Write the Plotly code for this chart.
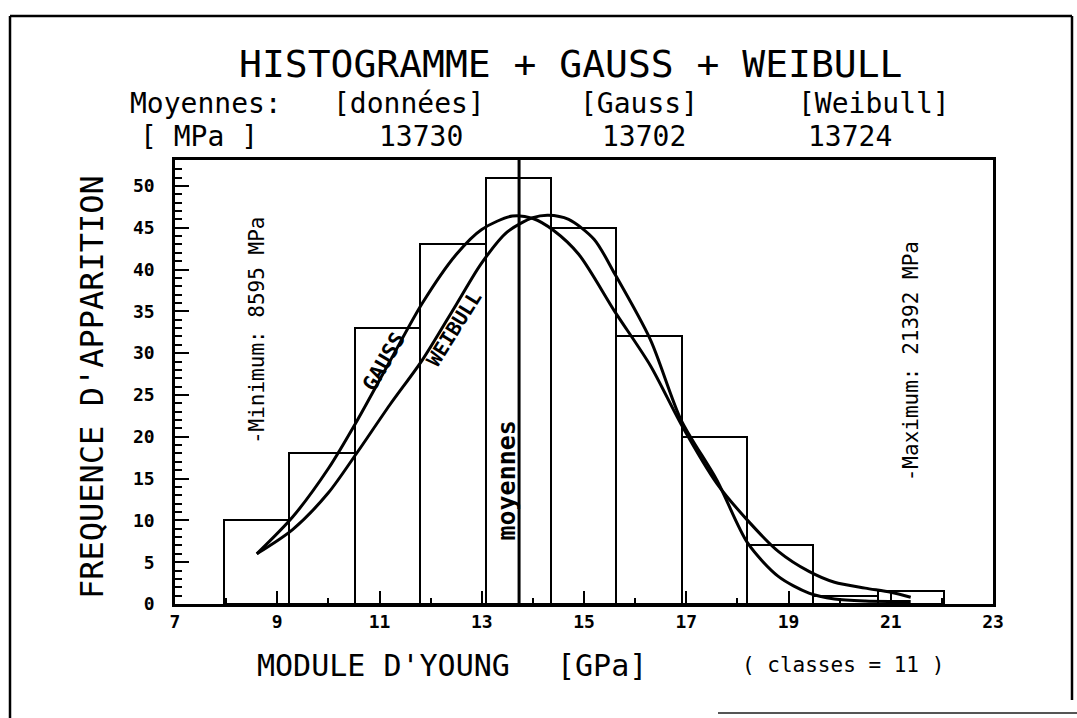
import plotly.graph_objects as go

# Histogram classes (GPa): centres span minimum..maximum, 11 classes
class_centres = [8.595, 9.875, 11.155, 12.434, 13.714, 14.994, 16.274, 17.553, 18.833, 20.113, 21.392]
class_width = 1.2797
frequencies = [10, 18, 33, 43, 51, 45, 32, 20, 7, 1, 1.5]

# Fitted Gauss curve (GPa, frequency)
gauss_x = [8.6, 9.3, 10.0, 10.55, 11.2, 11.84, 12.5, 13.0, 13.6, 14.0, 14.4, 14.9, 15.6,
           16.3, 16.9, 17.6, 18.2, 18.8, 19.4, 19.9, 20.5, 21.0, 21.39]
gauss_y = [6.0, 10.4, 16.2, 21.8, 29.0, 36.0, 41.8, 44.8, 46.4, 46.1, 44.7, 41.8, 35.0,
           28.5, 21.5, 14.4, 10.0, 6.3, 3.9, 2.6, 1.9, 1.4, 0.8]

# Fitted Weibull curve (GPa, frequency)
weibull_x = [8.6, 9.3, 10.0, 10.55, 11.2, 11.84, 12.5, 13.0, 13.5, 14.0, 14.3, 14.7, 15.2,
             15.6, 16.3, 16.9, 17.6, 18.2, 18.8, 19.4, 19.9, 20.5, 21.0, 21.39]
weibull_y = [6.0, 8.9, 13.3, 18.0, 23.8, 29.2, 35.8, 40.8, 44.5, 46.2, 46.5, 46.0, 43.6,
             39.5, 31.6, 22.0, 14.8, 7.3, 3.3, 1.3, 0.6, 0.35, 0.3, 0.3]

# Means (MPa) and extremes
mean_data, mean_gauss, mean_weibull = 13730, 13702, 13724
minimum, maximum = 8595, 21392

x_ticks = [7, 9, 11, 13, 15, 17, 19, 21, 23]
y_ticks = [0, 5, 10, 15, 20, 25, 30, 35, 40, 45, 50]

W, H = 1077, 718
L, R, T, B = 175, 84, 160, 114
MONO = "DejaVu Sans Mono"


def px(xp):
    return (xp - L) / (W - L - R)


def py(yp):
    return (H - B - yp) / (H - T - B)


fig = go.Figure()

fig.add_trace(go.Bar(
    x=class_centres, y=frequencies, width=[class_width] * len(frequencies),
    marker=dict(color="rgba(255,255,255,0)", line=dict(color="black", width=2)),
    hoverinfo="skip",
))
fig.add_trace(go.Scatter(x=gauss_x, y=gauss_y, mode="lines",
                         line=dict(color="black", width=3, shape="spline", smoothing=0.8)))
fig.add_trace(go.Scatter(x=weibull_x, y=weibull_y, mode="lines",
                         line=dict(color="black", width=3, shape="spline", smoothing=0.8)))

# Vertical line at the mean of the data
fig.add_shape(type="line", xref="x", yref="paper", x0=mean_data / 1000, x1=mean_data / 1000,
              y0=0, y1=1, line=dict(color="black", width=3))

# Outer frame of the sheet
frame = dict(color="black", width=2.5)
fig.add_shape(type="line", xref="paper", yref="paper", x0=px(10), x1=px(10), y0=py(16), y1=py(718), line=frame)
fig.add_shape(type="line", xref="paper", yref="paper", x0=px(10), x1=px(1072), y0=py(16), y1=py(16), line=frame)
fig.add_shape(type="line", xref="paper", yref="paper", x0=px(1072), x1=px(1072), y0=py(16), y1=py(700), line=frame)
fig.add_shape(type="line", xref="paper", yref="paper", x0=px(718), x1=px(1077), y0=py(713), y1=py(713),
              line=dict(color="#555", width=2))


def note(text, x, y, size, xref="paper", yref="paper", angle=0, bold=False, **kw):
    fig.add_annotation(text=text, x=x, y=y, xref=xref, yref=yref, textangle=angle,
                       showarrow=False, xanchor="center", yanchor="middle",
                       font=dict(family=MONO, size=size, color="black",
                                 weight="bold" if bold else "normal"), **kw)


note("HISTOGRAMME + GAUSS + WEIBULL", px(570), py(64), 38)
note("Moyennes:", px(206), py(103), 28)
note("[données]", px(409), py(103), 28)
note("[Gauss]", px(639), py(103), 28)
note("[Weibull]", px(874), py(103), 28)
note("[ MPa ]", px(199), py(136), 28)
note(f"{mean_data}", px(421), py(136), 28)
note(f"{mean_gauss}", px(644), py(136), 28)
note(f"{mean_weibull}", px(850), py(136), 28)

note("MODULE D'YOUNG", px(383), py(665), 30)
note("[GPa]", px(602), py(665), 30)
note("( classes = 11 )", px(843), py(665), 21)
note("FREQUENCE D'APPARITION", px(92), py(387), 32, angle=-90)

note(f"-Minimum: {minimum} MPa", minimum / 1000, 32.7, 21, xref="x", yref="y", angle=-90)
note(f"-Maximum: {maximum} MPa", maximum / 1000, 29.0, 21, xref="x", yref="y", angle=-90)
note("moyennes", 13.48, 14.8, 25, xref="x", yref="y", angle=-90, bold=True)
note("GAUSS", 11.08, 29.0, 21, xref="x", yref="y", angle=-60, bold=True)
note("WEIBULL", 12.45, 32.9, 20, xref="x", yref="y", angle=-58, bold=True)

axis_common = dict(showline=True, mirror=True, linecolor="black", linewidth=2.5,
                   showgrid=False, zeroline=False, ticks="inside", tickcolor="black",
                   tickwidth=2, tickfont=dict(family=MONO, size=18, color="black", weight="bold"))

fig.update_xaxes(range=[7, 23], tickvals=x_ticks, ticktext=[str(v) for v in x_ticks],
                 ticklen=13, minor=dict(ticks="inside", dtick=1, tick0=7, ticklen=6,
                                        tickcolor="black", tickwidth=2),
                 **axis_common)
fig.update_yaxes(range=[0, 53.1], tickvals=y_ticks, ticktext=[str(v) for v in y_ticks],
                 ticklen=14, ticklabelstandoff=14,
                 minor=dict(ticks="inside", dtick=1, tick0=0, ticklen=7,
                            tickcolor="black", tickwidth=2),
                 **axis_common)

fig.update_layout(width=W, height=H, autosize=False, showlegend=False,
                  margin=dict(l=L, r=R, t=T, b=B, pad=0),
                  paper_bgcolor="white", plot_bgcolor="white", bargap=0)

fig.write_html("out.html")
